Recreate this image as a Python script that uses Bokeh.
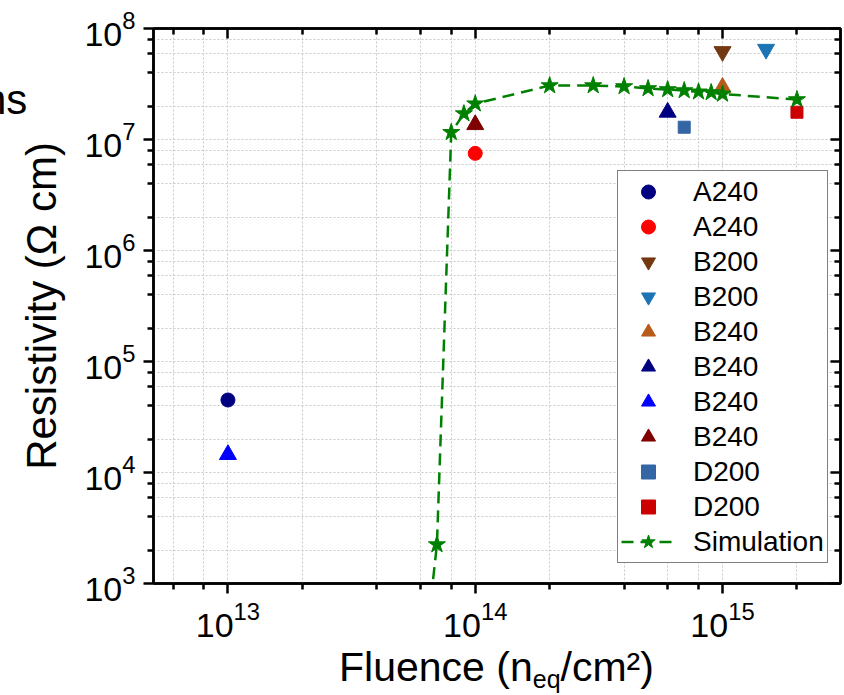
from bokeh.plotting import figure
from bokeh.models import (FixedTicker, LogAxis, Legend, LegendItem,
                          Range1d, CustomJSTickFormatter, Div)
from bokeh.layouts import column
from bokeh.embed import file_html
from bokeh.resources import INLINE

# ---------------- data ----------------
x_major = [1e13, 1e14, 1e15]
x_minor = [6e12, 8e12, 2e13, 4e13, 6e13, 8e13, 2e14, 4e14, 6e14, 8e14, 2e15]
y_major = [1e3, 1e4, 1e5, 1e6, 1e7, 1e8]
y_minor = [m * 10 ** e for e in range(3, 8) for m in (2, 4, 6, 8)]

a240_1_x, a240_1_y = [1e13], [4.5e4]
a240_2_x, a240_2_y = [1e14], [7.5e6]
b200_1_x, b200_1_y = [1e15], [6.2e7]
b200_2_x, b200_2_y = [1.5e15], [6.5e7]
b240_1_x, b240_1_y = [1e15], [2.95e7]
b240_2_x, b240_2_y = [6e14], [1.76e7]
b240_3_x, b240_3_y = [1e13], [1.45e4]
b240_4_x, b240_4_y = [1e14], [1.36e7]
d200_1_x, d200_1_y = [7e14], [1.29e7]
d200_2_x, d200_2_y = [2e15], [1.76e7]

sim_x = [6.5e13, 7e13, 8e13, 9e13, 1e14, 2e14, 3e14, 4e14, 5e14, 6e14,
         7e14, 8e14, 9e14, 1e15, 2e15]
sim_y = [5e2, 2.24e3, 1.16e7, 1.71e7, 2.1e7, 3.06e7, 3.06e7, 3.0e7, 2.88e7,
         2.82e7, 2.76e7, 2.69e7, 2.65e7, 2.57e7, 2.29e7]

FONT = "Liberation Sans"

p = figure(width=844, height=647, x_axis_type="log", y_axis_type="log",
           x_range=Range1d(5e12, 3e15), y_range=Range1d(1e3, 1e8),
           output_backend="svg", toolbar_location=None,
           min_border_left=153, min_border_right=4, min_border_top=28,
           min_border_bottom=64)
p.outline_line_color = "black"
p.outline_line_width = 2.5
p.background_fill_color = "white"
p.border_fill_color = "white"

xticker = FixedTicker(ticks=x_major, minor_ticks=x_minor)
yticker = FixedTicker(ticks=y_major, minor_ticks=y_minor)

for ax, tk in ((p.xaxis[0], xticker), (p.yaxis[0], yticker)):
    ax.ticker = tk
    ax.major_tick_out = 10
    ax.major_tick_in = 0
    ax.minor_tick_out = 6
    ax.minor_tick_in = 0
    ax.major_tick_line_width = 2.5
    ax.minor_tick_line_width = 2.5
    ax.axis_line_width = 2.5
    ax.major_label_text_font = FONT
    ax.major_label_text_font_size = "34px"
    ax.major_label_text_color = "black"
    ax.major_label_standoff = 8

p.yaxis.axis_label = "Resistivity (Ω cm)"
p.yaxis.axis_label_text_font = FONT
p.yaxis.axis_label_text_font_size = "42px"
p.yaxis.axis_label_text_font_style = "normal"
p.yaxis.axis_label_text_color = "black"
p.yaxis.axis_label_standoff = 16

blank = CustomJSTickFormatter(code="return ''")
for loc, tk in (("above", xticker), ("right", yticker)):
    ax = LogAxis(ticker=tk, formatter=blank,
                 major_tick_in=10, major_tick_out=0,
                 minor_tick_in=6, minor_tick_out=0,
                 major_tick_line_width=2.5, minor_tick_line_width=2.5,
                 axis_line_width=2.5, major_label_text_font_size="1px",
                 major_label_standoff=0)
    p.add_layout(ax, loc)

for g, tk in ((p.xgrid[0], xticker), (p.ygrid[0], yticker)):
    g.ticker = tk
    g.grid_line_color = "#c8c8c8"
    g.grid_line_dash = "2 2"
    g.grid_line_width = 1
    g.minor_grid_line_color = "#c8c8c8"
    g.minor_grid_line_dash = "2 2"
    g.minor_grid_line_width = 1

# ---------------- glyphs ----------------
items = []
def add(label, xs, ys, marker, color, size):
    r = p.scatter(xs, ys, marker=marker, size=size, fill_color=color,
                  line_color=color)
    items.append(LegendItem(label=label, renderers=[r]))

add("A240", a240_1_x, a240_1_y, "circle", "#000080", 14)
add("A240", a240_2_x, a240_2_y, "circle", "#ff0000", 14)
add("B200", b200_1_x, b200_1_y, "inverted_triangle", "#733811", 17)
add("B200", b200_2_x, b200_2_y, "inverted_triangle", "#1c74b4", 17)
add("B240", b240_1_x, b240_1_y, "triangle", "#b85a1a", 17)
add("B240", b240_2_x, b240_2_y, "triangle", "#000080", 17)
add("B240", b240_3_x, b240_3_y, "triangle", "#0000ff", 17)
add("B240", b240_4_x, b240_4_y, "triangle", "#800000", 17)
add("D200", d200_1_x, d200_1_y, "square", "#3465a4", 12)
add("D200", d200_2_x, d200_2_y, "square", "#cc0000", 12)

sim_line = p.line(sim_x, sim_y, line_color="#008000", line_width=2.5,
                  line_dash="12 7")
sim_star = p.scatter(sim_x, sim_y, marker="star", size=18,
                     fill_color="#008000", line_color="#008000")
items.append(LegendItem(label="Simulation", renderers=[sim_line, sim_star]))

legend = Legend(items=items, location=(464, 20),
                label_text_font=FONT, label_text_font_size="28px",
                label_text_color="black",
                glyph_width=54, glyph_height=35, label_height=30,
                label_standoff=18, spacing=0, padding=3, margin=0,
                border_line_color="black", border_line_width=1,
                background_fill_color="white", background_fill_alpha=1)
p.add_layout(legend, "center")

# ---------------- x-axis title with subscript (HTML text) ----------------
x_title = Div(
    text='Fluence (n<span style="font-size:25px;vertical-align:-7px">eq'
         '</span>/cm²)',
    width=687, height=48, margin=(0, 0, 0, 153),
    styles={"text-align": "center", "font-family": FONT,
            "font-size": "41px", "line-height": "41px",
            "white-space": "nowrap", "color": "black"})

# cut-off text fragment at the top-left edge
ns_div = Div(text="ns", width=60, height=50,
             styles={"position": "absolute", "left": "-22px", "top": "71px",
                     "font-family": FONT, "font-size": "42px",
                     "line-height": "normal", "white-space": "nowrap",
                     "color": "black"})

layout = column(p, x_title, ns_div, spacing=0)
open("out.html", "w").write(file_html(layout, INLINE))
